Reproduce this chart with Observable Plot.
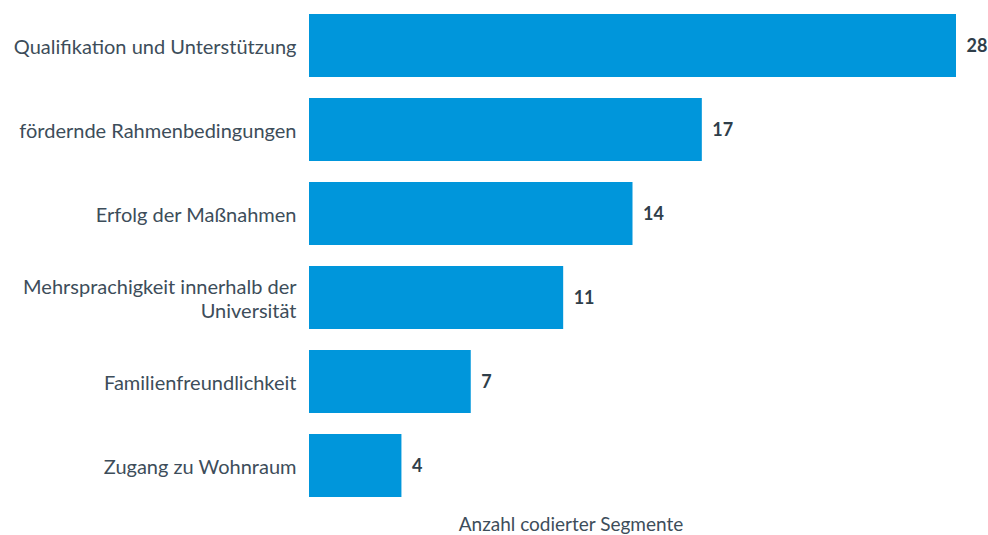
<!DOCTYPE html>
<html>
<head>
<meta charset="utf-8">
<script src="https://cdn.jsdelivr.net/npm/d3@7"></script>
<script src="https://cdn.jsdelivr.net/npm/@observablehq/plot@0.6"></script>
<style>
  body { margin: 0; background: #fff; }
  #chart svg { display: block; }
</style>
</head>
<body>
<div id="chart"></div>
<script>
const categories = [
  "Qualifikation und Unterstützung",
  "fördernde Rahmenbedingungen",
  "Erfolg der Maßnahmen",
  "Mehrsprachigkeit innerhalb der\nUniversität",
  "Familienfreundlichkeit",
  "Zugang zu Wohnraum"
];
const values = [28, 17, 14, 11, 7, 4];
const xLabel = "Anzahl codierter Segmente";

const data = categories.map((c, i) => ({category: c, value: values[i]}));

const chart = Plot.plot({
  width: 988,
  height: 535,
  marginLeft: 309,
  marginRight: 32,
  marginTop: -1,
  marginBottom: 24,
  style: {fontFamily: "Lato, 'Open Sans', sans-serif", color: "#3d4d5a", background: "#fff"},
  x: {domain: [0, 28], axis: null},
  y: {domain: categories, paddingInner: 0.25, paddingOuter: 0.14, axis: null},
  marks: [
    Plot.barX(data, {x: "value", y: "category", fill: "#0096db"}),
    Plot.text(data, {x: "value", y: "category", text: d => String(d.value), textAnchor: "start", dx: 10, fontSize: 18, fontWeight: "bold", fill: "#2f3e4a"}),
    Plot.axisY({tickSize: 0, tickPadding: 13, fontSize: 20, lineHeight: 1.2, label: null}),
    Plot.text([xLabel], {frameAnchor: "bottom", dx: -62, dy: 19, fontSize: 19, fill: "#3d4d5a"})
  ]
});
document.getElementById("chart").appendChild(chart);
</script>
</body>
</html>
